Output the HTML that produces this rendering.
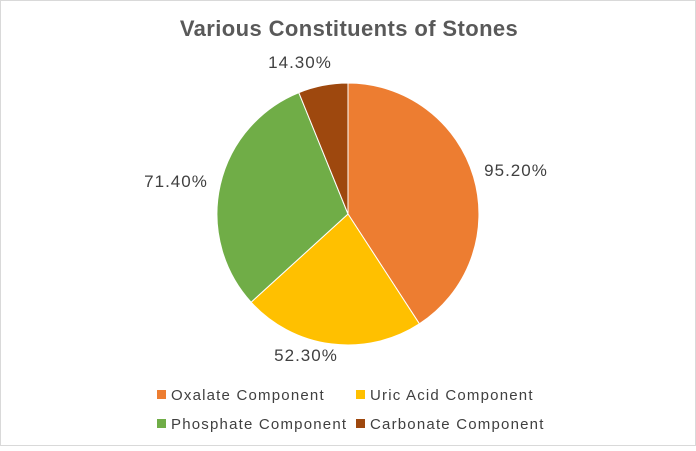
<!DOCTYPE html>
<html><head><meta charset="utf-8"><style>
body{margin:0;background:#fff;}
svg text{font-family:"Liberation Sans",sans-serif;}
</style></head><body>
<svg width="696" height="446" viewBox="0 0 696 446" xmlns="http://www.w3.org/2000/svg">
<rect width="696" height="446" fill="#fff"/>
<rect x="0.5" y="0.5" width="695" height="445" fill="none" stroke="#d9d9d9"/>
<text x="349" y="36" text-anchor="middle" font-size="22" font-weight="bold" fill="#595959" letter-spacing="0.4">Various Constituents of Stones</text>
<g stroke="#fff" stroke-width="1">
<path d="M348,214 L348,83 A131,131 0 0 1 419.4,323.8 Z" fill="#ED7D31"/>
<path d="M348,214 L419.4,323.8 A131,131 0 0 1 251.1,302.2 Z" fill="#FFC000"/>
<path d="M348,214 L251.1,302.2 A131,131 0 0 1 298.8,92.6 Z" fill="#70AD47"/>
<path d="M348,214 L298.8,92.6 A131,131 0 0 1 348,83 Z" fill="#9E480E"/>
</g>
<g font-size="17" fill="#404040" letter-spacing="1">
<text x="516" y="176" text-anchor="middle">95.20%</text>
<text x="306" y="361" text-anchor="middle">52.30%</text>
<text x="176" y="187" text-anchor="middle">71.40%</text>
<text x="300" y="68" text-anchor="middle">14.30%</text>
</g>
<g font-size="15" fill="#404040" letter-spacing="1.2">
<rect x="157" y="390" width="9" height="9" fill="#ED7D31"/>
<text x="171" y="400">Oxalate Component</text>
<rect x="356" y="390" width="9" height="9" fill="#FFC000"/>
<text x="370" y="400">Uric Acid Component</text>
<rect x="157" y="419" width="9" height="9" fill="#70AD47"/>
<text x="171" y="429">Phosphate Component</text>
<rect x="356" y="419" width="9" height="9" fill="#9E480E"/>
<text x="370" y="429">Carbonate Component</text>
</g>
</svg>
</body></html>
